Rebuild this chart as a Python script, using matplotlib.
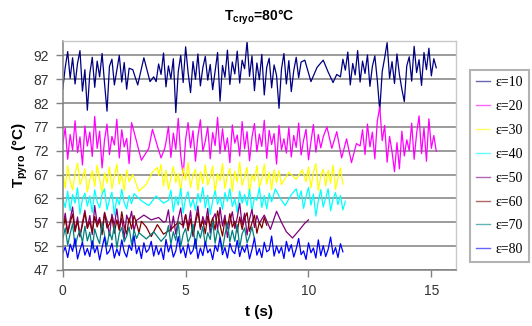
import numpy as np
import matplotlib
matplotlib.use("Agg")
import matplotlib.pyplot as plt


# sampling step of the dense (measured) stretches, in seconds
DT = 0.1

# each series: start times of the dense runs, the run values,
# and the few sparse points Excel drew through the gaps
eps10_start = [0.0, 3.8, 11.3]
eps10_runs = [
    [85.0, 89.5, 92.8, 87.2, 91.5, 86.0, 90.3, 93.0, 84.5, 89.0, 80.5, 88.2, 91.6, 85.3,
     90.8, 87.5, 92.4, 86.1, 80.3, 89.7, 91.2, 85.8, 88.9, 92.0, 86.4, 90.5, 84.9, 89.3],
    [86.5, 90.2, 88.0, 92.5, 85.4, 89.8, 87.1, 91.3, 80.0, 88.6,
     92.0, 86.3, 93.8, 88.4, 84.2, 90.7, 87.0, 92.3, 85.6, 89.4,
     91.8, 86.8, 90.1, 84.8, 88.7, 92.6, 82.4, 89.9, 87.4, 93.1,
     85.9, 90.6, 88.1, 92.9, 86.2, 91.0, 89.2, 95.0, 87.6, 91.9,
     84.6, 90.4, 86.9, 92.2, 83.7, 89.5, 91.4, 85.2, 90.0, 87.8,
     80.9, 89.1, 92.4, 86.0, 90.9, 84.4, 88.8, 91.6, 87.3, 90.6],
    [87.5, 91.2, 88.9, 92.7, 85.8, 90.3, 87.9, 93.0, 86.4, 90.8,
     88.2, 92.1, 85.5, 89.7, 91.9, 86.8, 80.4, 88.6, 91.5, 94.7,
     87.2, 90.7, 86.1, 92.3, 88.0, 84.9, 82.3, 89.8, 91.7, 86.6,
     93.9, 88.4, 91.1, 85.7, 92.6, 89.0, 93.5, 87.7, 91.3, 89.4],
]
eps10_gap_t = [2.85, 3.05, 3.3, 3.55, 3.7, 9.85, 10.1, 10.35, 10.6, 10.8, 11.0, 11.15]
eps10_gap_v = [89.0, 85.8, 91.5, 86.5, 87.5, 91.0, 86.5, 89.5, 91.0, 88.5, 86.3, 88.0]

eps20_start = [0.0, 4.2, 12.1]
eps20_runs = [
    [73.5, 76.8, 70.2, 75.4, 72.1, 78.3, 71.6, 74.9, 69.0, 77.2, 73.0, 75.9, 70.8, 79.2, 72.5,
     76.1, 68.4, 74.3, 77.6, 71.2, 75.0, 73.2, 78.6, 70.5, 76.4, 72.8, 74.6, 69.3, 77.9],
    [73.8, 77.1, 70.6, 75.7, 72.3, 78.8, 71.0, 66.8, 74.4, 77.9,
     72.6, 76.2, 69.8, 75.1, 78.5, 71.9, 74.0, 77.0, 70.3, 75.8,
     73.1, 79.0, 71.4, 76.6, 72.0, 74.7, 69.5, 77.4, 73.6, 75.3,
     70.9, 78.1, 72.4, 76.0, 69.9, 74.8, 77.7, 71.8, 75.5, 72.9,
     78.4, 70.4, 76.3, 73.3, 75.6, 69.2, 77.3, 72.2, 74.5, 71.5,
     76.9, 70.7, 75.2, 72.7, 77.8, 71.1, 74.2, 76.5, 70.1, 73.9,
     77.5, 71.7, 75.4, 72.6, 74.9],
    [73.0, 76.4, 71.2, 77.6, 72.8, 75.9, 70.3, 78.2, 81.2, 74.1,
     77.3, 69.6, 75.0, 71.8, 67.6, 73.7, 68.2, 76.1, 70.9, 74.3,
     72.0, 77.8, 70.2, 75.6, 79.3, 71.4, 76.8, 69.8, 78.7, 72.5,
     75.2, 71.9],
]
eps20_gap_t = [2.95, 3.2, 3.5, 3.65, 3.85, 4.0, 4.15,
               10.75, 10.95, 11.15, 11.35, 11.55, 11.75, 11.95]
eps20_gap_v = [75.0, 70.0, 72.5, 76.5, 73.0, 70.5, 72.5,
               77.0, 72.5, 76.0, 70.5, 74.5, 69.5, 73.5]

eps30_start = [0.0, 3.9, 9.9]
eps30_runs = [
    [67.5, 64.2, 68.9, 65.6, 63.8, 67.1, 69.4, 64.9, 66.3, 68.2, 63.4, 65.9, 67.8, 64.5,
     69.0, 66.0, 63.1, 67.4, 65.2, 68.6, 64.0, 66.7, 69.2, 65.0, 67.0, 63.6, 68.0, 65.5],
    [66.8, 69.1, 64.6, 67.9, 63.9, 66.2, 68.7, 65.3, 67.3, 63.3,
     68.4, 65.8, 69.5, 64.3, 66.9, 68.1, 63.7, 67.6, 65.1, 69.0,
     64.8, 66.5, 68.8, 63.2, 67.2, 65.7, 69.3, 64.1, 66.6, 68.3,
     63.5, 67.7, 65.4, 69.6, 64.7, 66.4, 68.5, 63.0, 67.0, 65.6,
     68.9, 64.4, 66.1, 69.2, 65.0, 67.5, 63.8, 68.0, 65.3, 67.8,
     64.9],
    [65.5, 68.6, 64.2, 67.4, 69.3, 63.6, 66.8, 68.1, 64.6, 67.9, 65.2, 69.0, 63.9, 66.3,
     68.4, 65.0],
]
eps30_gap_t = [2.85, 3.1, 3.4, 3.65, 3.85, 9.2, 9.5, 9.75]
eps30_gap_v = [67.0, 63.5, 65.0, 67.5, 68.5, 67.5, 66.0, 68.0]

eps40_start = [0.0, 4.3, 9.6]
eps40_runs = [
    [62.0, 60.1, 63.5, 59.4, 62.8, 61.0, 64.2, 58.7, 61.9, 63.1, 60.4, 62.5, 59.0, 63.8, 61.3,
     60.0, 62.9, 64.0, 59.6, 61.7, 63.3, 58.5, 62.2, 60.7, 63.9, 61.1, 59.8, 62.6, 60.9, 63.0],
    [61.6, 63.7, 59.2, 62.4, 60.6, 64.1, 58.9, 62.1, 63.4, 60.2,
     61.8, 59.5, 63.0, 61.2, 64.3, 60.0, 62.7, 58.6, 61.5, 63.6,
     60.8, 62.3, 59.7, 63.2, 61.4, 64.0, 60.3, 62.0, 59.1, 63.5,
     61.0, 62.8, 60.5, 63.9, 59.3, 62.2, 61.6, 64.2, 60.1, 62.6,
     59.8, 63.1, 61.3],
    [61.8, 63.6, 59.9, 62.4, 64.3, 60.6, 62.9, 58.3, 61.5, 63.8,
     60.2, 62.1, 64.0, 59.4, 61.9, 63.2, 60.7, 62.6, 59.6, 61.4],
]
eps40_gap_t = [3.2, 3.5, 3.8, 4.1, 8.65, 8.85, 9.05, 9.3, 9.5]
eps40_gap_v = [61.5, 60.5, 62.5, 61.0, 64.0, 62.0, 60.5, 62.8, 64.0]

eps50_start = [0.0, 4.2]
eps50_runs = [
    [56.0, 58.9, 54.8, 57.6, 60.2, 55.3, 58.1, 53.9, 57.0, 59.5, 55.9, 58.4, 54.4, 60.5, 56.7,
     58.0, 55.0, 59.1, 57.3, 54.2, 58.7, 56.3, 59.8, 55.6, 57.9, 53.6, 58.5, 56.9, 59.3, 55.2,
     57.4],
    [57.2, 59.6, 55.1, 58.3, 54.5, 57.8, 60.0, 55.8, 58.6, 56.1,
     59.4, 54.0, 57.5, 60.4, 55.5, 58.2, 56.5, 59.9, 54.7, 57.7,
     58.8, 55.4, 60.1, 56.2, 58.5, 53.8, 57.1, 59.2, 55.7, 58.0,
     61.0, 56.4, 58.9, 54.3, 57.6, 59.7, 55.9, 58.4, 56.8],
]
eps50_gap_t = [3.3, 3.6, 3.9, 4.1, 8.2, 8.45, 8.7, 8.9, 9.1, 9.35, 9.6, 9.85, 10.0]
eps50_gap_v = [58.5, 57.5, 58.0, 57.0, 58.5, 55.5, 59.3, 57.0, 55.0, 53.7, 55.2, 56.8, 57.5]

eps60_start = [0.0, 4.9]
eps60_runs = [
    [55.5, 57.8, 54.6, 56.9, 58.7, 55.0, 57.3, 54.2, 56.4, 59.0, 55.7, 57.1, 54.9, 58.2, 56.0,
     57.6, 54.4, 58.9, 55.8, 56.6, 58.0, 54.7, 57.5, 55.3, 59.2, 56.2, 54.5, 57.9, 55.6, 58.4,
     56.8, 54.8, 57.2],
    [56.3, 58.6, 55.2, 57.7, 54.3, 56.8, 59.1, 55.9, 57.4, 54.6,
     58.3, 56.1, 57.9, 55.4, 59.4, 56.5, 54.1, 57.6, 55.7, 58.8,
     56.0, 57.2, 54.9, 58.1, 55.5, 57.8, 59.0, 55.1, 56.9, 58.5,
     54.7, 57.0, 55.8, 58.0, 56.4],
]
eps60_gap_t = [3.4, 3.6, 3.85, 4.1, 4.4, 4.7]
eps60_gap_v = [56.0, 54.0, 56.5, 54.5, 55.5, 57.0]

eps70_start = [0.0, 4.2]
eps70_runs = [
    [53.5, 55.8, 52.2, 54.6, 56.7, 51.8, 54.0, 55.3, 52.7, 56.2, 53.1, 54.9, 51.4, 55.6, 53.8,
     52.5, 56.9, 54.3, 52.0, 55.1, 53.3, 56.4, 51.6, 54.7, 55.9, 52.9, 54.1, 56.0, 52.3, 55.4,
     53.6, 54.8],
    [54.2, 56.3, 52.4, 55.0, 53.2, 57.0, 51.9, 54.5, 55.7, 52.8,
     54.0, 56.6, 51.5, 55.2, 53.7, 56.1, 52.1, 54.8, 53.4, 57.2,
     52.6, 55.5, 53.9, 51.3, 54.4, 56.8, 52.9, 55.3, 53.0, 56.5,
     51.7, 54.6, 55.8, 52.7, 54.1, 56.0, 53.5],
]
eps70_gap_t = [3.4, 3.7, 4.0]
eps70_gap_v = [53.5, 55.0, 53.0]

eps80_start = [0.0]
eps80_runs = [
    [50.5, 51.8, 49.6, 52.4, 50.9, 53.6, 49.3, 51.2, 52.8, 50.1,
     51.5, 49.8, 53.1, 50.6, 52.0, 49.1, 51.7, 53.9, 50.3, 51.0,
     52.6, 49.5, 51.4, 50.0, 53.3, 50.8, 49.7, 52.2, 51.1, 54.2,
     50.4, 51.9, 49.4, 52.7, 50.7, 51.3, 53.0, 49.9, 52.1, 50.2,
     51.6, 49.2, 53.4, 50.8, 52.3, 49.7, 51.0, 54.0, 50.5, 51.8,
     49.6, 52.5, 50.3, 51.1, 53.5, 49.4, 51.6, 50.0, 52.9, 50.6,
     51.4, 49.2, 52.2, 50.9, 53.8, 50.2, 51.7, 49.5, 52.6, 51.0,
     50.4, 53.2, 49.8, 51.9, 50.7, 52.4, 49.3, 51.3, 53.7, 50.1,
     51.5, 49.6, 52.8, 50.8, 51.2, 54.1, 49.9, 52.0, 50.5, 51.8,
     49.4, 53.0, 50.9, 52.3, 49.7, 51.4, 53.6, 50.2, 51.0, 49.2,
     52.7, 50.6, 51.6, 49.5, 53.3, 50.0, 52.1, 49.8, 51.3, 53.9,
     50.3, 51.7, 49.6, 52.5, 50.8],
]
eps80_gap_t = []
eps80_gap_v = []

labels = ["ε=10", "ε=20", "ε=30", "ε=40", "ε=50", "ε=60", "ε=70", "ε=80"]
colors = ["#000080", "#ff00ff", "#ffff00", "#00ffff",
          "#800080", "#800000", "#008080", "#0000ff"]

y_ticks = [47, 52, 57, 62, 67, 72, 77, 82, 87, 92]
x_ticks = [0, 5, 10, 15]


def build_series(starts, runs, gap_t, gap_v):
    t = np.concatenate([s + DT * np.arange(len(r)) for s, r in zip(starts, runs)]
                       + [np.asarray(gap_t, dtype=float)])
    v = np.concatenate([np.asarray(r, dtype=float) for r in runs]
                       + [np.asarray(gap_v, dtype=float)])
    order = np.argsort(t, kind="stable")
    return t[order], v[order]


def main() -> None:
    plt.rcParams["font.family"] = ["Liberation Sans", "DejaVu Sans"]
    plt.rcParams["mathtext.fontset"] = "custom"
    plt.rcParams["mathtext.rm"] = "Liberation Sans"
    plt.rcParams["mathtext.bf"] = "Liberation Sans:bold"

    series = [
        (eps10_start, eps10_runs, eps10_gap_t, eps10_gap_v),
        (eps20_start, eps20_runs, eps20_gap_t, eps20_gap_v),
        (eps30_start, eps30_runs, eps30_gap_t, eps30_gap_v),
        (eps40_start, eps40_runs, eps40_gap_t, eps40_gap_v),
        (eps50_start, eps50_runs, eps50_gap_t, eps50_gap_v),
        (eps60_start, eps60_runs, eps60_gap_t, eps60_gap_v),
        (eps70_start, eps70_runs, eps70_gap_t, eps70_gap_v),
        (eps80_start, eps80_runs, eps80_gap_t, eps80_gap_v),
    ]

    fig = plt.figure(figsize=(5.32, 3.26), dpi=100)
    ax = fig.add_axes([0.118, 0.172, 0.739, 0.702])

    for (starts, runs, gt, gv), lab, col in zip(series, labels, colors):
        t, v = build_series(starts, runs, gt, gv)
        ax.plot(t, v, color=col, linewidth=0.9, label=lab)

    ax.set_xlim(0, 16)
    ax.set_ylim(47, 95)
    ax.set_xticks(x_ticks)
    ax.set_yticks(y_ticks)
    ax.yaxis.grid(True, color="#808080", linewidth=1.1)
    ax.set_axisbelow(True)

    for side in ("left", "bottom"):
        ax.spines[side].set_color("#808080")
        ax.spines[side].set_linewidth(1.1)
    for side in ("top", "right"):
        ax.spines[side].set_color("#c8c8c8")
        ax.spines[side].set_linewidth(1.0)
    ax.tick_params(axis="both", colors="#808080", labelcolor="#333333",
                   labelsize=10, length=5, width=1.0)
    ax.tick_params(axis="x", pad=5)
    ax.tick_params(axis="y", pad=5)

    ax.set_title(r"$\mathbf{T_{cryo}}$=80°C", fontsize=10, fontweight="bold", pad=15)
    ax.set_xlabel("t (s)", fontsize=11, fontweight="bold", labelpad=5)
    ax.set_ylabel(r"$\mathbf{T_{pyro}}$ (°C)", fontsize=11, fontweight="bold", labelpad=2)

    leg = ax.legend(loc="upper left", bbox_to_anchor=(0.883, 0.785),
                    bbox_transform=fig.transFigure, borderaxespad=0.0,
                    frameon=True, fancybox=False, edgecolor="#a0a0a0",
                    labelspacing=0.78, handlelength=1.0, handletextpad=0.4,
                    borderpad=0.45,
                    prop={"family": ["Liberation Serif", "DejaVu Serif"], "size": 10})
    leg.get_frame().set_linewidth(1.5)
    for line in leg.get_lines():
        line.set_linewidth(1.0)
        line.set_alpha(0.6)

    fig.savefig("out.png", dpi=100)


if __name__ == "__main__":
    main()
